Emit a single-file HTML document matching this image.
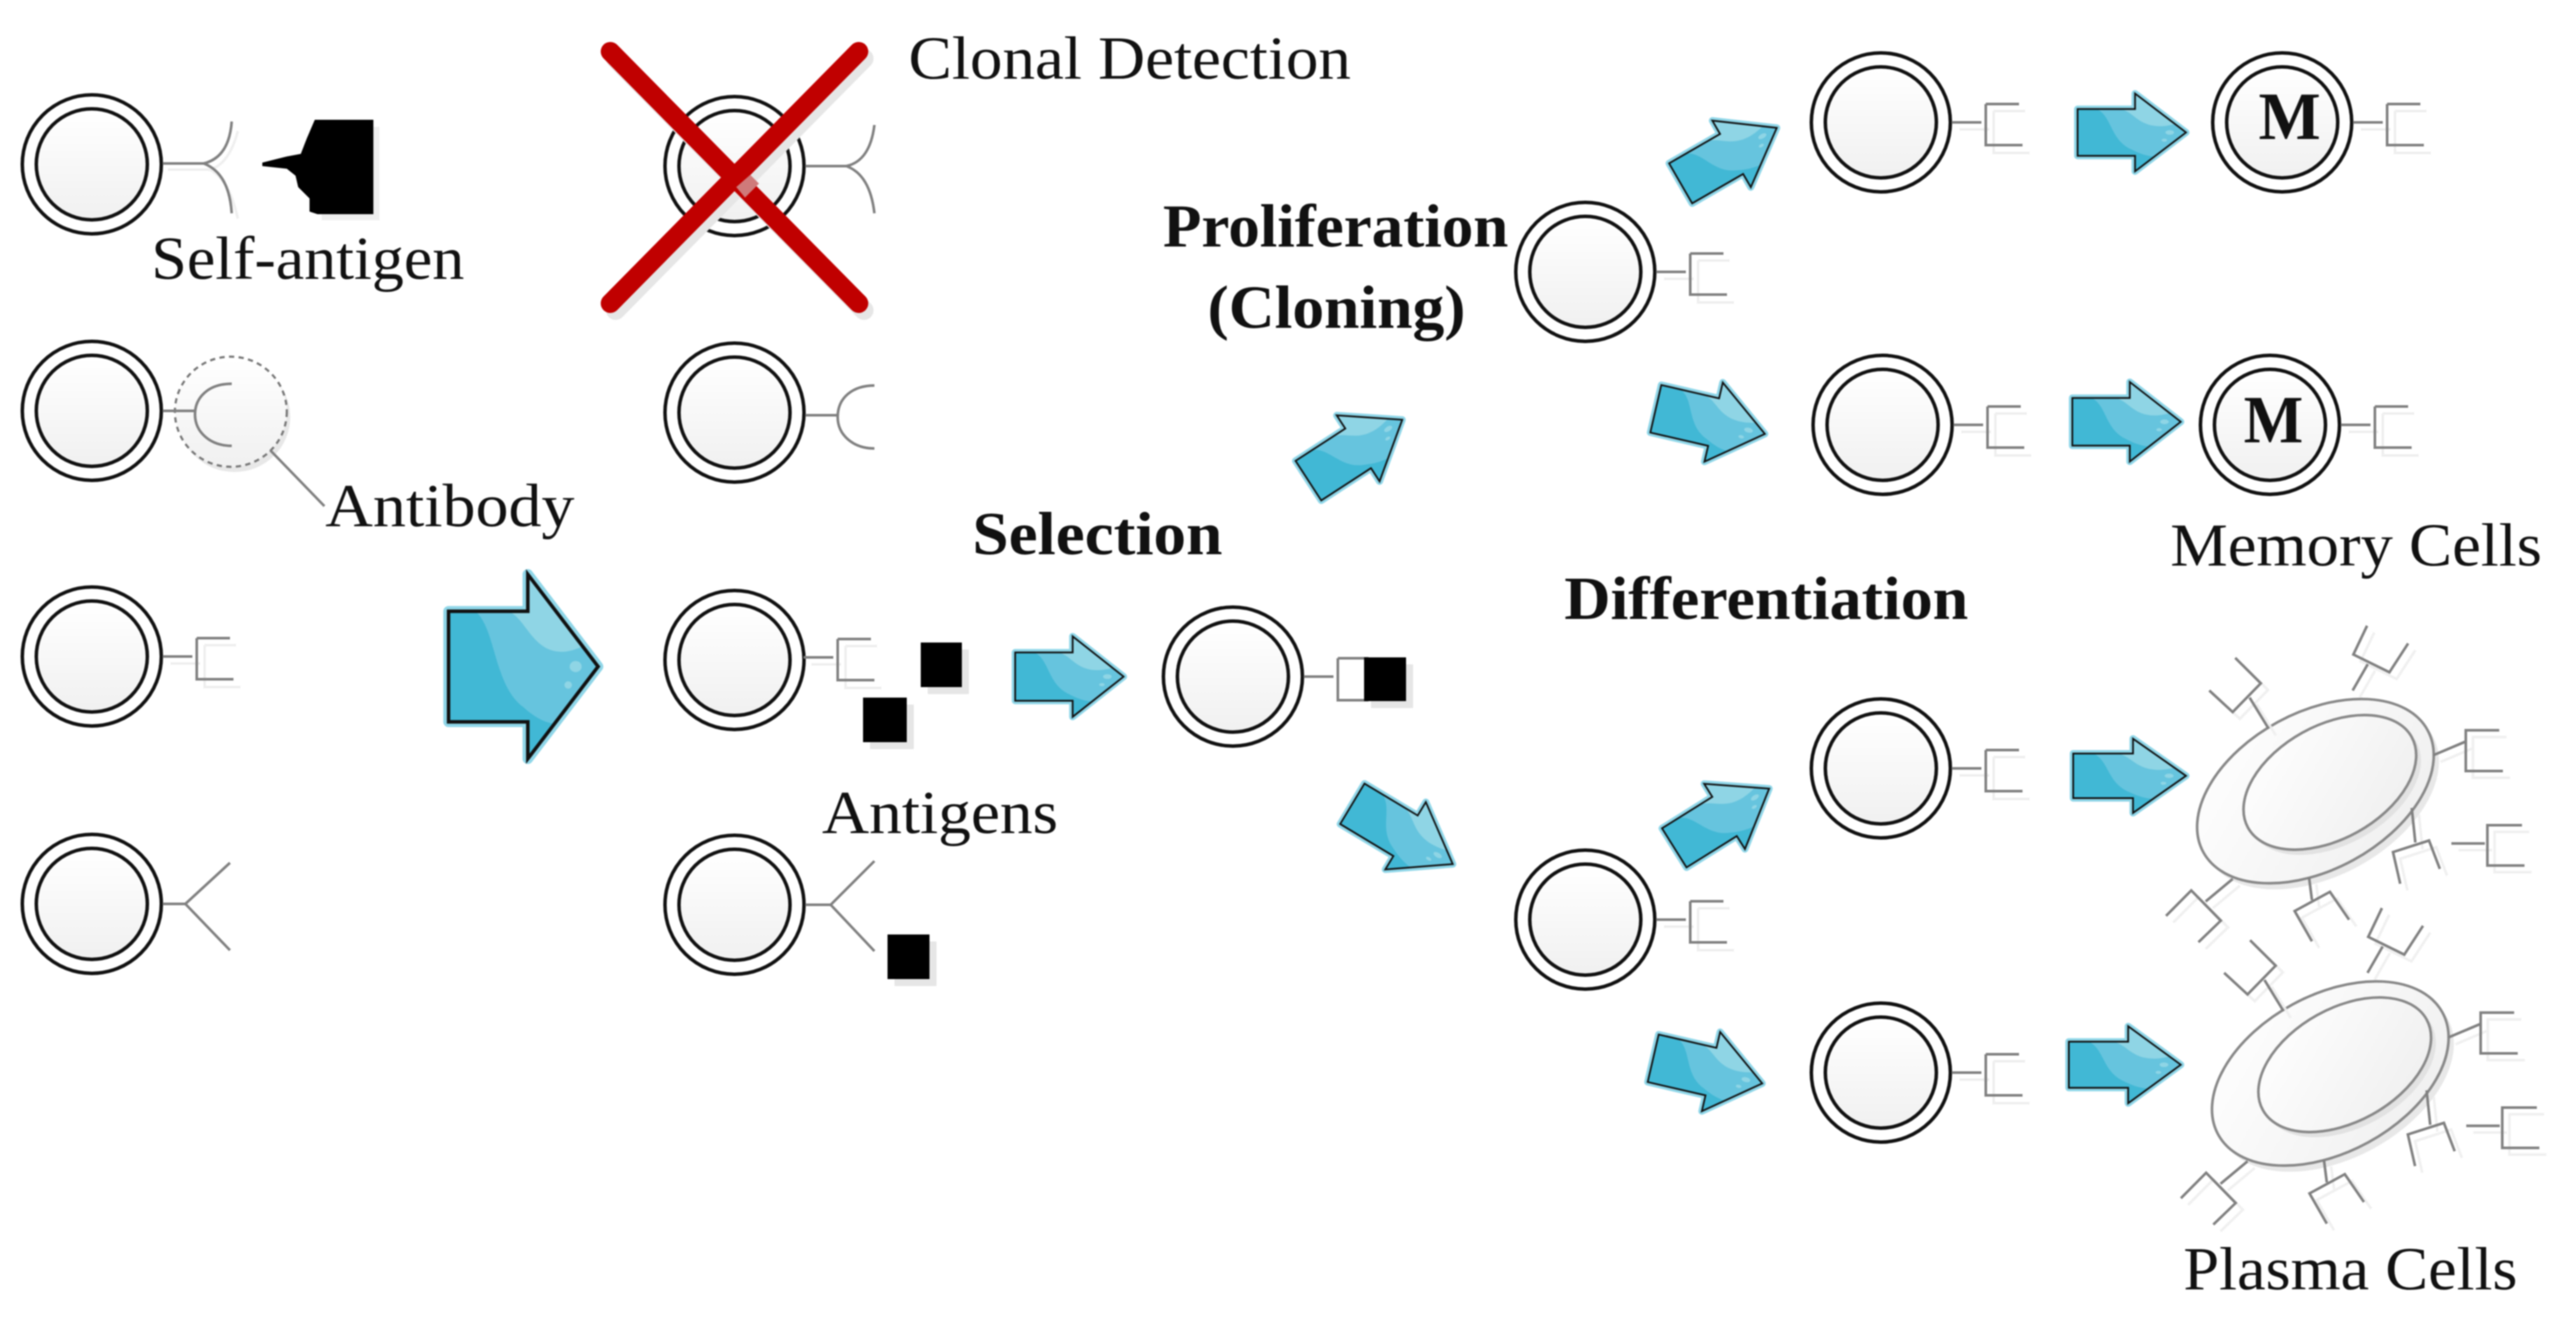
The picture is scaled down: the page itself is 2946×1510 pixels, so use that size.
<!DOCTYPE html>
<html><head><meta charset="utf-8">
<style>
html,body{margin:0;padding:0;background:#fff;width:2946px;height:1510px;overflow:hidden}
svg{display:block;filter:blur(.7px)}
text{font-family:"Liberation Serif",serif;fill:#111;font-size:70px}
.b{font-weight:bold}
.ns{vector-effect:non-scaling-stroke}
.gl{fill:none;stroke:#808080;stroke-width:3}
.gs{fill:none;stroke:#efefef;stroke-width:3}
</style></head><body>
<svg width="2946" height="1510" viewBox="0 0 2946 1510" xmlns="http://www.w3.org/2000/svg">
<defs>
<linearGradient id="g" x1="0" y1="0" x2="0" y2="1"><stop offset="0" stop-color="#fff"/><stop offset="1" stop-color="#f0f0f0"/></linearGradient>
<linearGradient id="g2" x1="0" y1="0" x2="1" y2="1"><stop offset="0" stop-color="#fff"/><stop offset="1" stop-color="#eee"/></linearGradient>
<clipPath id="ac"><polygon points="0,20 53,20 53,0 100,50 53,100 53,80 0,80"/></clipPath>
<g id="cell">
<circle r="79.5" fill="#fff" stroke="#111" stroke-width="4"/>
<circle r="63.5" fill="url(#g)" stroke="#111" stroke-width="4"/>
</g>
<g id="rs">
<path d="M90 8H124M129 -13V35H170M129 -13H165" class="gs"/>
<path d="M81 0H115M120 -21V26H162M120 -21H158" class="gl"/>
</g>
<g id="arrow">
<polygon class="ns" points="0,20 53,20 53,0 100,50 53,100 53,80 0,80" fill="#8fd6e8" stroke="#8fd6e8" stroke-width="var(--o,8)" stroke-linejoin="round"/>
<polygon points="0,20 53,20 53,0 100,50 53,100 53,80 0,80" fill="#41b8d5"/>
<g clip-path="url(#ac)">
<path d="M18 20C32 30 30 60 50 72C58 78 66 81 72 81L100 50L53 0V20Z" fill="#66c4de"/>
<path d="M40 20C52 24 56 42 76 42C84 42 92 38 92 38L53 0V20Z" fill="#8fd5e5"/>
<ellipse cx="85" cy="50" rx="4" ry="3" fill="#8fd5e5"/>
<ellipse cx="80" cy="60" rx="2.5" ry="2" fill="#8fd5e5"/>
</g>
<polygon class="ns" points="0,20 53,20 53,0 100,50 53,100 53,80 0,80" fill="none" stroke="#111" stroke-width="var(--k,2)" stroke-linejoin="miter"/>
</g>
<g id="plasma">
<ellipse cx="2654" cy="912" rx="146" ry="90" transform="rotate(-28.5 2654 912)" fill="#e8e8e8"/>
<ellipse cx="2648" cy="905" rx="146" ry="90" transform="rotate(-28.5 2648 905)" fill="url(#g2)" stroke="#888" stroke-width="3"/>
<ellipse cx="2670" cy="901" rx="107" ry="65" transform="rotate(-29 2670 901)" fill="#e2e2e2"/>
<ellipse cx="2664.5" cy="895" rx="107" ry="65" transform="rotate(-29 2664.5 895)" fill="url(#g2)" stroke="#888" stroke-width="3"/>
<g transform="translate(2300,650) scale(.412,.5485)">
<g transform="translate(20,14)" opacity=".9">
<path class="ns gs" d="M715 335L662 270M622 187L693 240L615 300L550 255M948 255L990 200M988 120L950 180L1050 217L1102 157M1172 390L1260 362M1355 338H1262V423H1365M1222 574H1315M1418 536H1322V620H1425M1112 500L1122 572M1080 658L1060 592L1160 568L1190 627M827 645L835 692M835 778L787 715L885 675L938 733M615 648L540 695M430 725L500 672L582 735L520 780"/>
</g>
<path class="ns gl" d="M715 335L662 270M622 187L693 240L615 300L550 255M948 255L990 200M988 120L950 180L1050 217L1102 157M1172 390L1260 362M1355 338H1262V423H1365M1222 574H1315M1418 536H1322V620H1425M1112 500L1122 572M1080 658L1060 592L1160 568L1190 627M827 645L835 692M835 778L787 715L885 675L938 733M615 648L540 695M430 725L500 672L582 735L520 780"/>
</g>
</g>
</defs>

<!-- column 1 -->
<use href="#cell" x="105" y="188"/>
<path d="M192 194H240Q262 188 272 150M240 194Q262 205 272 250" class="gs"/>
<path d="M186 187H233Q262 180 265 139M233 187Q262 198 265 244" class="gl"/>
<path d="M365 145H434V252H368Z" fill="#efefef"/>
<path d="M360 137H427V245H363L354 242L354 227L341 214L338 201L328 193L300 190V186L328 179L344 176L351 158Z" fill="#000"/>

<use href="#cell" x="105" y="470"/>
<ellipse cx="268" cy="477" rx="64" ry="63" fill="#e8e8e8"/>
<ellipse cx="264" cy="471" rx="64" ry="63" fill="url(#g)" stroke="#777" stroke-width="2.5" stroke-dasharray="6 5"/>
<path d="M186 470H223" class="gl"/>
<path d="M265 439C238 439 223 455 223 474C223 494 240 510 265 510" class="gl"/>
<path d="M309 515L371 579" class="gl"/>

<use href="#cell" x="105" y="751"/>
<use href="#rs" x="105" y="751"/>

<use href="#cell" x="105" y="1034"/>
<path d="M186 1034H212L263 987M212 1034L263 1087" class="gl"/>

<!-- big arrow -->
<use href="#arrow" transform="translate(513,657) scale(1.71,2.11)" style="--o:12;--k:4"/>

<!-- column 2 -->
<use href="#cell" x="840" y="190"/>
<path d="M921 190H968Q995 184 1000 143M968 190Q995 200 1000 244" class="gl"/>
<path d="M698 59L982 347M982 59L698 347" stroke="#e6e6e6" stroke-width="22" stroke-linecap="round" transform="translate(6,8)" fill="none"/>
<path d="M698 59L982 347M982 59L698 347" stroke="#c00000" stroke-width="22" stroke-linecap="round" fill="none"/>
<path d="M842 214L858 200L868 210L852 226Z" fill="#cf7a7a"/>

<use href="#cell" x="840" y="472"/>
<path d="M921 475H958M1000 441C975 441 958 455 958 477C958 497 975 513 1000 513" class="gl"/>

<use href="#cell" x="840" y="755"/>
<use href="#rs" x="838" y="752"/>
<rect x="1061" y="743" width="47" height="51" fill="#e6e6e6"/>
<rect x="1053" y="735" width="47" height="51" fill="#000"/>
<rect x="995" y="806" width="50" height="51" fill="#e6e6e6"/>
<rect x="987" y="798" width="50" height="51" fill="#000"/>

<use href="#cell" x="840" y="1035"/>
<path d="M921 1035H950L1000 985M950 1035L1000 1088" class="gl"/>
<rect x="1023" y="1077" width="48" height="51" fill="#e6e6e6"/>
<rect x="1015" y="1069" width="48" height="51" fill="#000"/>

<!-- selection -->
<use href="#arrow" transform="translate(1161,728) scale(1.24,.92)" style="--o:8"/>
<use href="#cell" x="1410" y="774"/>
<path d="M1491 774H1525M1530 753V801H1565M1530 753H1565" class="gl"/>
<rect x="1568" y="760" width="48" height="50" fill="#e6e6e6"/>
<rect x="1560" y="752" width="48" height="50" fill="#000"/>

<use href="#arrow" transform="translate(1550,515) rotate(-33) scale(1.28,.9) translate(-50,-50)" style="--o:8"/>
<use href="#arrow" transform="translate(1604,954) rotate(31) scale(1.34,.9) translate(-50,-50)" style="--o:8"/>

<!-- proliferation branch -->
<use href="#cell" x="1813" y="311"/>
<use href="#rs" x="1813" y="311"/>
<use href="#arrow" transform="translate(1977,178) rotate(-30) scale(1.27,.88) translate(-50,-50)" style="--o:8"/>
<use href="#arrow" transform="translate(1956,482) rotate(13) scale(1.28,.93) translate(-50,-50)" style="--o:8"/>

<use href="#cell" x="2151" y="140"/>
<use href="#rs" x="2151" y="140"/>
<use href="#cell" x="2153" y="486"/>
<use href="#rs" x="2153" y="486"/>
<use href="#arrow" transform="translate(2376,107) scale(1.24,.89)" style="--o:8"/>
<use href="#arrow" transform="translate(2370,437) scale(1.24,.91)" style="--o:8"/>
<use href="#cell" x="2610" y="140"/>
<use href="#rs" x="2610" y="140"/>
<use href="#cell" x="2596" y="486"/>
<use href="#rs" x="2596" y="486"/>
<text class="b" x="2583" y="159" style="font-size:77px" textLength="71" lengthAdjust="spacingAndGlyphs">M</text>
<text class="b" x="2566" y="506" style="font-size:77px" textLength="68" lengthAdjust="spacingAndGlyphs">M</text>

<!-- differentiation branch -->
<use href="#cell" x="1813" y="1052"/>
<use href="#rs" x="1813" y="1052"/>
<use href="#arrow" transform="translate(1969,936) rotate(-32) scale(1.28,.88) translate(-50,-50)" style="--o:8"/>
<use href="#arrow" transform="translate(1953,1225) rotate(13) scale(1.28,.93) translate(-50,-50)" style="--o:8"/>
<use href="#cell" x="2151" y="879"/>
<use href="#rs" x="2151" y="879"/>
<use href="#cell" x="2151" y="1227"/>
<use href="#rs" x="2151" y="1227"/>
<use href="#arrow" transform="translate(2371,845) scale(1.29,.85)" style="--o:8"/>
<use href="#arrow" transform="translate(2366,1174) scale(1.28,.88)" style="--o:8"/>

<use href="#plasma"/>
<use href="#plasma" transform="translate(17,323)"/>

<!-- labels -->
<text x="1039" y="90" textLength="506" lengthAdjust="spacingAndGlyphs">Clonal Detection</text>
<text x="173" y="319" textLength="358" lengthAdjust="spacingAndGlyphs">Self-antigen</text>
<text x="372" y="602" textLength="285" lengthAdjust="spacingAndGlyphs">Antibody</text>
<text class="b" x="1330" y="282" textLength="395" lengthAdjust="spacingAndGlyphs">Proliferation</text>
<text class="b" x="1381" y="375" textLength="295" lengthAdjust="spacingAndGlyphs">(Cloning)</text>
<text class="b" x="1112" y="634" textLength="286" lengthAdjust="spacingAndGlyphs">Selection</text>
<text x="940" y="953" textLength="270" lengthAdjust="spacingAndGlyphs">Antigens</text>
<text class="b" x="1789" y="708" textLength="462" lengthAdjust="spacingAndGlyphs">Differentiation</text>
<text x="2482" y="647" textLength="425" lengthAdjust="spacingAndGlyphs">Memory Cells</text>
<text x="2497" y="1475" textLength="382" lengthAdjust="spacingAndGlyphs">Plasma Cells</text>
</svg>
</body></html>
